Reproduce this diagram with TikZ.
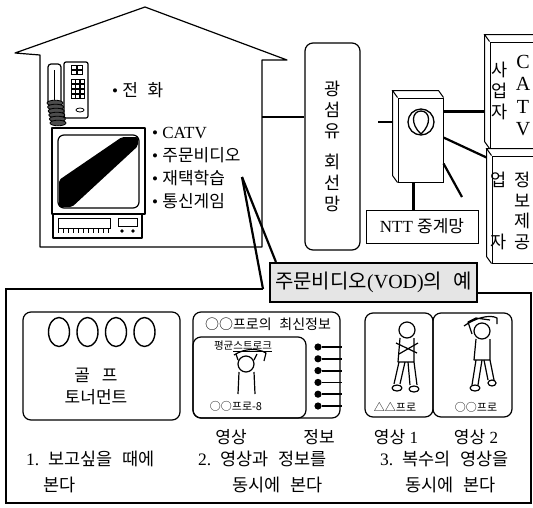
\documentclass[tikz,border=0pt]{standalone}
\usepackage{fontspec}
\setmainfont{Liberation Serif}
\newfontfamily\kr{Noto Sans CJK KR}[WordSpace=2.5]
\usetikzlibrary{positioning,calc}

% visible top and left faces of a box seen from the upper left
\newcommand\sidefaces[1]{%
  \draw[line width=1pt] (#1.north west) -- ++(-5,-7) -- ($(#1.north east)+(-5,-7)$) -- (#1.north east);
  \draw[line width=1pt] ($(#1.north west)+(-5,-7)$) -- ($(#1.south west)+(-5,-7)$) -- (#1.south west);
}

\begin{document}
\begin{tikzpicture}[x=1pt, y=-1pt,
  wall/.style={line width=1.2pt, line join=round},
  link/.style={line width=2.2pt},
  tube/.style={draw, rounded corners=8pt, line width=1.2pt, inner sep=0pt},
  flat/.style={draw, fill=white, line width=1pt, inner sep=0pt},
  banner/.style={draw, fill=black!10, line width=2.2pt, inner sep=0pt, font=\fontsize{20}{22}\selectfont},
  svc/.style={font=\fontsize{17}{23.3}\selectfont, align=left, inner sep=0pt},
  column/.style={font=\fontsize{17.5}{21}\selectfont\kr, align=center, inner sep=0pt},
  capt/.style={font=\fontsize{17.5}{26}\selectfont, align=left, anchor=west, inner sep=0pt},
  tag/.style={font=\fontsize{17}{20}\selectfont, inner sep=0pt},
  smallkr/.style={font=\fontsize{11}{12}\selectfont\kr, inner sep=0pt}
]
\useasboundingbox (0,0) rectangle (533,507);
\clip (0,0) rectangle (533,507);

% house
\draw[wall] (40,247) -- (40,55) -- (15,53) -- (145,7) -- (287,60) -- (262,60) -- (262,247) -- cycle;

% telephone
\draw[wall, rounded corners=2pt] (64,62) rectangle (88,118);
\foreach \i in {0,1} \foreach \j in {0,1}
  \draw[line width=0.8pt] (71+\i*6,65+\j*5) rectangle ++(5,4);
\foreach \i in {0,1,2} \foreach \j in {0,1,2,3}
  \draw[line width=0.8pt] (71+\i*4.5,79+\j*5) rectangle ++(4,4);
\draw[line width=0.8pt] (80,110) ellipse (4 and 2);
\draw[wall, rounded corners=3pt] (48,64) rectangle (61,106);
\draw[line width=0.8pt] (54,70) -- (54,100);
\foreach \k in {0,...,5}
  \filldraw[line width=0.8pt, fill=black!70] (55+\k*0.6,103+\k*4) ellipse (8 and 2.8);

% television and video deck
\draw[wall] (52,128) rectangle (145,214);
\draw[wall, rounded corners=6pt] (58,135) rectangle (139,208);
\fill[rounded corners=2pt] (59,180) -- (122,137) -- (138,137) -- (138,146) -- (72,207) -- (59,207) -- cycle;
\draw[wall] (53,214) rectangle (142,238);
\draw[line width=0.9pt] (58,218) rectangle (110,228);
\draw[line width=0.9pt] (118,218) rectangle (137,226);
\foreach \x in {58,63,...,108}
  \draw[line width=1pt] (\x,229) -- (\x,233);
\fill (122,231) circle (1.8) (133,231) circle (1.8);

% services at home
\node[svc, anchor=west] (phone-item) at (112,90) {• {\kr 전 화}};
\node[svc, anchor=west] (services) at (152,168)
  {• CATV\\• {\kr 주문비디오}\\• {\kr 재택학습}\\• {\kr 통신게임}};

% network side
\node[tube, minimum width=55, minimum height=207, column] (fiber) at (332.5,146.5)
  {광\\섬\\유\\[10pt]회\\선\\망};
\node[flat, minimum width=45, minimum height=84] (ntt-node) at (420.5,140) {};
\sidefaces{ntt-node}
\draw[line width=1.3pt] (421,122) circle (13);
\draw[line width=1.3pt] (421,134) .. controls (410,124) and (412,111) .. (421,111)
  .. controls (430,111) and (432,124) .. (421,134);
\node[flat, minimum width=112, minimum height=33, tag] (relay) at (422,226.5) {NTT {\kr 중계망}};
\node[flat, minimum width=70, minimum height=106] (catv) at (525,95) {};
\sidefaces{catv}
\node[tag, align=center, font=\fontsize{20}{22.3}\selectfont] (catv-name) at (523,95.5) {C\\A\\T\\V};
\node[column] (catv-owner) at (500,91) {사\\업\\자};
\node[flat, minimum width=68, minimum height=107] (info) at (526,209.5) {};
\sidefaces{info}
\node[column, font=\fontsize{17.5}{20.7}\selectfont\kr] (info-name) at (523,211) {정\\보\\제\\공};
\node[column, font=\fontsize{17.5}{20.7}\selectfont\kr] (info-owner) at (499,211) {업\\[41.4pt]자};

\coordinate (house-port) at (262,117);
\draw[link] (house-port) -- (house-port -| fiber.west);
\coordinate (fiber-out) at (378,122);
\coordinate (ntt-back) at ($(ntt-node.west)+(-5,0)$);
\draw[link] (fiber-out) -- (fiber-out -| ntt-back);
\coordinate (to-catv) at ($(ntt-node.north east)+(0,14)$);
\coordinate (catv-back) at ($(catv.west)+(-5,0)$);
\draw[link] (to-catv) -- (to-catv -| catv-back);
\coordinate (to-info) at ($(ntt-node.north east)+(0,40)$);
\draw[link] (to-info) -- ($(info.north west)+(-5,2)$);
\coordinate (spare-end) at (462,197);
\draw[link] ($(ntt-node.south east)+(0,-19)$) -- (spare-end);
\coordinate (to-relay) at ($(ntt-node.south)+(-7,0)$);
\draw[link] (to-relay) -- (to-relay |- relay.north);

% video on demand examples
\node[banner, minimum width=207, minimum height=39] (vod) at (373.5,282.5) {{\kr 주문비디오}(VOD){\kr 의 예}};
\coordinate (callout) at (242,177);
\coordinate (frame-gap) at (263,289);
\draw[link] (callout) -- (frame-gap);
\draw[link] (callout) -- ($(vod.north west)+(7,0)$);
\draw[link] (frame-gap) -- (6,289) -- (6,503) -- (531,503) -- (531,293) -- (477,293);

% 1. golf tournament
\node[tube, minimum width=157, minimum height=108] (golf) at (101.5,366) {};
\foreach \x in {59,87.5,116,144.5}
  \draw[line width=1.4pt] (\x,332) ellipse (10.5 and 14.5);
\node[column, font=\fontsize{17}{22}\selectfont\kr] (golf-title) at (96,386) {골\hspace{12pt}프\\토너먼트};
\node[capt] (cap-one) at (26,472) {1.\hspace{9pt}{\kr 보고싶을 때에}\\\hspace*{17pt}{\kr 본다}};

% 2. video and information
\node[tube, minimum width=147, minimum height=106] (both) at (266.5,365) {};
\node[tube, minimum width=113, minimum height=81] (clip) at (249.5,377.5) {};
\node[smallkr, font=\fontsize{14}{15}\selectfont\kr] (both-title) at (268,324) {○○프로의 최신정보};
\node[smallkr, font=\fontsize{10.5}{11}\selectfont\kr] (stroke-title) at (243,346) {평균\underline{스트로크}};
\draw[wall] (246,364) circle (8);
\draw[wall] (234,355) .. controls (245,348) and (258,348) .. (266,353) -- (264,361);
\draw[wall] (238,360) -- (236,354) (254,360) -- (257,354);
\draw[wall] (239,372) -- (238,394) (254,372) -- (255,394);
\node[smallkr] (clip-tag) at (236,406) {○○프로-8};
\foreach \y in {347,358.8,370.6,382.4,394.2,406} {
  \fill (318,\y) circle (3.6);
  \draw[line width=1.8pt] (322,\y) -- (342,\y);
}
\node[tag, font=\fontsize{17}{20}\selectfont\kr] (video-label) at (231,437) {영상};
\node[tag, font=\fontsize{17}{20}\selectfont\kr] (info-label) at (319,437) {정보};
\node[capt] (cap-two) at (198,472) {2.\hspace{9pt}{\kr 영상과 정보를}\\\hspace*{34pt}{\kr 동시에 본다}};

% 3. several videos
\node[tube, minimum width=68, minimum height=104] (pro-a) at (399,365) {};
\node[tube, minimum width=79, minimum height=104] (pro-b) at (472.5,365) {};
% standing player
\draw[wall] (407,330) circle (8);
\draw[wall] (400,338) -- (398,362) -- (414,362) -- (414,338);
\draw[wall] (396,343) -- (417,353) (418,343) -- (399,354);
\draw[wall] (399,362) -- (394,384) (405,362) -- (400,384) (408,362) -- (410,385) (414,362) -- (417,385);
\draw[wall] (397,388) ellipse (5 and 3) (414,389) ellipse (5 and 3);
% swinging player
\draw[wall] (482,331) circle (8);
\draw[wall] (472,334) -- (468,322) -- (476,318) -- (490,320) (464,326) .. controls (475,318) and (490,314) .. (497,318) -- (497,324);
\draw[wall] (476,339) -- (474,360) -- (490,360) -- (490,339);
\draw[wall] (476,360) -- (472,385) (482,360) -- (478,385) (484,360) -- (488,380) (490,360) -- (494,380);
\draw[wall] (475,388) ellipse (5 and 3) (492,383) ellipse (4 and 3);
\node[smallkr] (pro-a-tag) at (395,407) {△△프로};
\node[smallkr] (pro-b-tag) at (476,407) {○○프로};
\node[tag] (video-one) at (396,437) {{\kr 영상} 1};
\node[tag] (video-two) at (476,437) {{\kr 영상} 2};
\node[capt] (cap-three) at (380,472) {3.\hspace{9pt}{\kr 복수의 영상을}\\\hspace*{25pt}{\kr 동시에 본다}};
\end{tikzpicture}
\end{document}
